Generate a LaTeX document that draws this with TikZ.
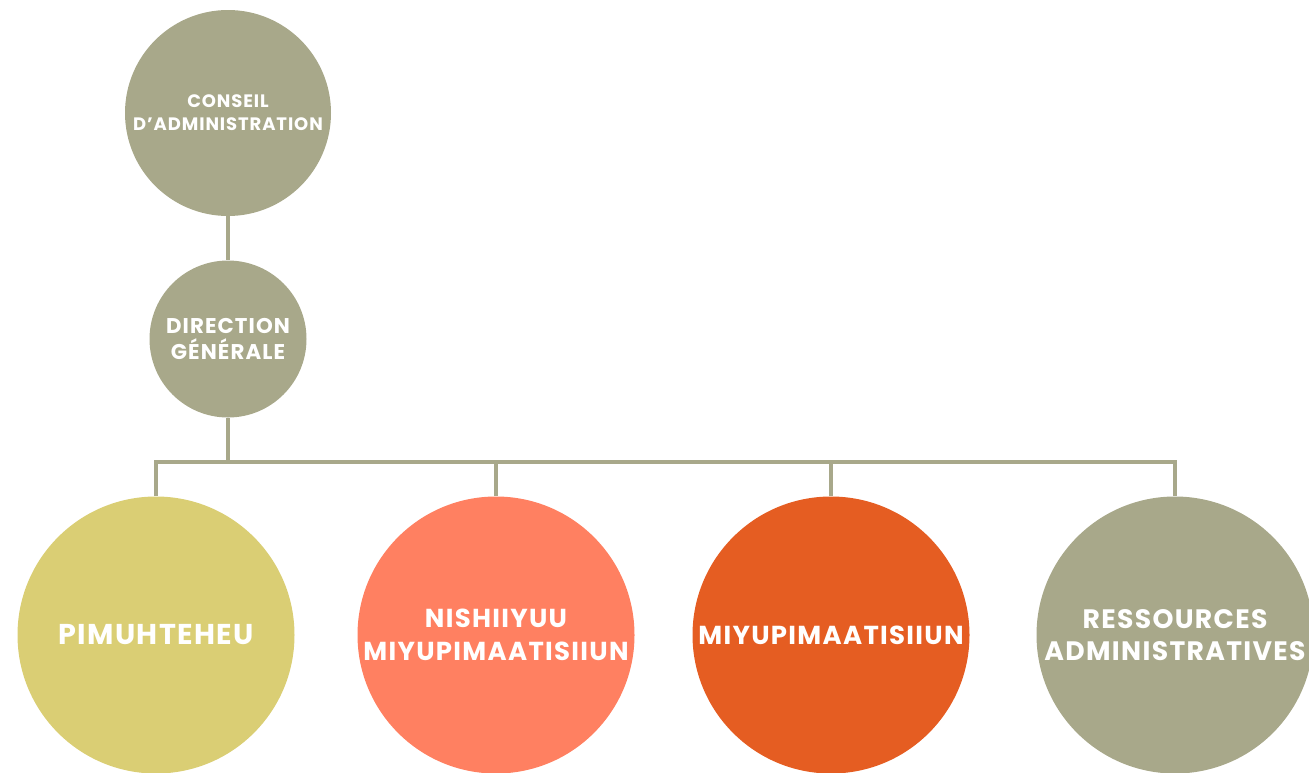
\documentclass[tikz,border=0pt]{standalone}
\usepackage{fontspec}
\setmainfont{Poppins}
\usepackage{tikz}

\definecolor{sage}{RGB}{168,168,138}
\definecolor{mustard}{RGB}{218,206,116}
\definecolor{salmon}{RGB}{255,128,97}
\definecolor{rust}{RGB}{229,93,34}

\newcommand{\wide}{\bfseries\addfontfeatures{LetterSpace=5}}

\tikzset{
  unit/.style={circle, inner sep=0pt},
  caption/.style={text=white, align=center, inner sep=0pt},
  link/.style={draw=sage, line width=3.2pt}
}

\begin{document}
\begin{tikzpicture}[x=0.75pt,y=0.75pt,yscale=-1,xscale=1]
\useasboundingbox (0,0) rectangle (1309,772);

%Top: board
\node [unit, fill=sage, minimum size=154.5pt,
  label={[caption, font=\wide\fontsize{13.5}{17.25}\selectfont]center:CONSEIL\\D’ADMINISTRATION}] (conseil) at (228,113) {};
%Second: general direction
\node [unit, fill=sage, minimum size=117.75pt,
  label={[caption, font=\wide\fontsize{16}{19.5}\selectfont]center:DIRECTION\\GÉNÉRALE}] (direction) at (228,339) {};

%Bottom row
\node [unit, fill=mustard, minimum size=207.75pt,
  label={[caption, font=\wide\fontsize{21.5}{24.5}\selectfont]center:PIMUHTEHEU}] (pimu) at (156,635) {};
\node [unit, fill=salmon, minimum size=207.75pt,
  label={[caption, font=\wide\fontsize{19.5}{24.5}\selectfont]center:NISHIIYUU\\MIYUPIMAATISIIUN}] (nish) at (496,635) {};
\node [unit, fill=rust, minimum size=207.75pt,
  label={[caption, font=\wide\fontsize{19.5}{24.5}\selectfont]center:MIYUPIMAATISIIUN}] (miyu) at (831,635) {};
\node [unit, fill=sage, minimum size=207.75pt,
  label={[caption, font=\wide\fontsize{20}{24.5}\selectfont]center:RESSOURCES\\ADMINISTRATIVES}] (ress) at (1175,635) {};

%Connectors
\coordinate (bus) at (228,462);
\draw [link] (conseil.south) -- (direction.north);
\draw [link] (direction.south) -- (bus);
\draw [link] (pimu.north) -- (pimu.north |- bus) -- (ress.north |- bus) -- (ress.north);
\draw [link] (nish.north) -- (nish.north |- bus);
\draw [link] (miyu.north) -- (miyu.north |- bus);

\end{tikzpicture}
\end{document}
